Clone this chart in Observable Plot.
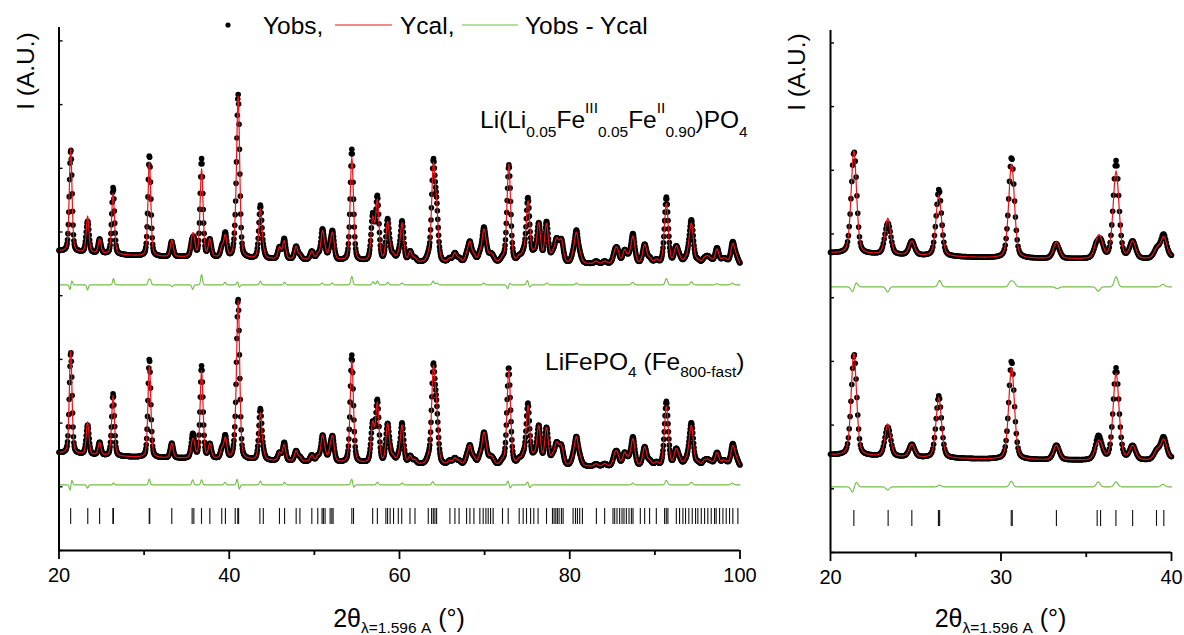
<!DOCTYPE html>
<html><head><meta charset="utf-8">
<script src="https://cdn.jsdelivr.net/npm/d3@7"></script>
<script src="https://cdn.jsdelivr.net/npm/@observablehq/plot@0.6"></script>
<style>
body{margin:0;background:#fff;}
#wrap{position:relative;width:1184px;height:635px;overflow:hidden;font-family:"Liberation Sans",Arial,sans-serif;background:#fff;}
#wrap > svg, #wrap > div{position:absolute;}
</style></head><body><div id="wrap"></div>
<script>
// ---------------- data ----------------
// reflection positions (2θ, degrees)
const peakPos = [21.37,23.36,24.77,26.35,30.62,33.25,35.64,35.84,36.75,37.72,39.15,39.55,40.72,41.05,43.65,44.0,45.9,46.45,47.85,48.3,49.7,50.4,50.95,51.25,51.85,52.15,54.4,56.85,57.4,58.6,58.95,59.3,59.85,60.3,61.25,61.8,63.4,63.97,64.36,65.9,66.5,67.0,67.9,68.27,68.75,69.45,69.9,70.2,70.7,71.0,72.1,72.84,74.06,74.55,75.1,75.8,76.36,77.27,78.0,78.44,78.75,79.05,80.4,80.78,81.2,83.1,84.1,85.3,85.6,86.45,86.95,87.43,88.8,89.4,90.17,91.35,92.5,92.9,93.6,94.0,94.3,95.05,95.8,96.2,96.6,97.3,98.0,98.4,99.15,99.6];
// peak heights above background, upper pattern Li(Li0.05FeIII0.05FeII0.90)PO4
const peakHeightTop = [1.63,0.57,0.22,0.96,1.49,0.26,0.22,0.22,1.38,0.27,0.15,0.33,0.2,2.5,0.76,0.08,0.18,0.28,0.2,0.06,0.13,0.08,0.42,0.1,0.15,0.38,1.62,0.65,0.93,0.6,0.08,0.08,0.08,0.6,0.16,0.06,0.08,1.42,0.7,0.06,0.14,0.06,0.1,0.3,0.1,0.12,0.45,0.15,0.1,0.06,0.06,1.55,0.08,0.12,0.95,0.12,0.6,0.6,0.12,0.3,0.12,0.3,0.1,0.45,0.1,0.04,0.04,0.15,0.18,0.2,0.08,0.42,0.3,0.08,0.06,0.95,0.25,0.08,0.06,0.1,0.6,0.06,0.08,0.1,0.06,0.24,0.08,0.06,0.32,0.1];
// peak heights above background, lower pattern LiFePO4 (Fe800-fast)
const peakHeightBottom = [1.62,0.51,0.2,0.95,1.46,0.23,0.18,0.18,1.37,0.22,0.14,0.31,0.2,2.45,0.73,0.08,0.12,0.25,0.16,0.06,0.1,0.08,0.38,0.1,0.15,0.36,1.6,0.6,0.92,0.6,0.08,0.08,0.08,0.6,0.12,0.06,0.08,1.4,0.72,0.06,0.1,0.06,0.1,0.28,0.1,0.12,0.44,0.15,0.1,0.06,0.06,1.5,0.08,0.12,0.92,0.12,0.6,0.58,0.12,0.28,0.12,0.25,0.1,0.42,0.1,0.04,0.04,0.15,0.16,0.2,0.08,0.42,0.3,0.08,0.06,0.95,0.25,0.08,0.06,0.1,0.6,0.06,0.08,0.08,0.06,0.22,0.08,0.06,0.32,0.1];
// background levels
const bgAngles = [20,25,30,40,50,60,70,80,90,100];
const bgTop = [4.70,4.66,4.62,4.59,4.56,4.52,4.51,4.50,4.49,4.47];
const bgBottom = [1.53,1.49,1.46,1.43,1.39,1.35,1.33,1.32,1.31,1.30];
// Yobs - Ycal: baseline offsets and visible misfit features [2θ, amplitude]
const diffTopOffset = 4.17;
const diffBottomOffset = 1.03;
const diffTopPos = [21.3,21.5,23.35,26.4,30.55,30.75,33.3,35.7,36.75,39.5,41.0,41.15,43.65,46.5,50.9,52.1,54.4,56.9,57.4,58.6,60.3,63.95,64.4,69.9,72.75,72.9,75.05,75.25,77.3,80.8,87.4,91.35,94.3,97.3,99.1];
const diffTopAmp = [-0.08,0.07,-0.08,0.1,0.08,0.07,-0.03,-0.07,0.16,0.04,0.06,-0.05,0.06,0.04,0.03,0.03,0.13,0.05,0.06,0.04,0.03,0.06,0.03,0.03,-0.08,0.05,0.08,-0.05,0.03,0.03,0.04,0.1,0.05,0.02,0.03];
const diffBottomPos = [21.3,21.5,23.35,26.4,30.6,35.7,36.75,39.5,40.95,41.15,43.65,46.5,54.4,54.6,57.4,60.3,63.9,72.8,72.95,75.1,75.25,87.4,91.35,94.3,99.1];
const diffBottomAmp = [-0.09,0.08,-0.05,0.03,0.09,0.08,0.08,0.04,0.1,-0.08,0.06,0.04,0.1,-0.05,0.04,0.03,0.05,0.09,-0.08,0.07,-0.07,0.03,0.07,0.04,0.03];
// Bragg reflection markers
const braggPos = [21.37,23.38,24.77,26.33,26.40,30.60,30.66,33.25,35.64,35.84,36.74,37.72,39.12,39.55,40.7,41.0,41.1,43.6,44.0,45.9,46.5,47.86,48.3,49.7,50.4,50.9,51.06,51.26,51.85,52.05,52.2,54.4,54.6,56.85,57.4,58.4,58.6,58.9,59.3,59.86,60.26,61.23,61.82,63.38,63.77,63.97,64.16,64.36,65.92,66.51,67.0,67.88,68.27,68.74,69.44,69.83,70.15,70.42,70.7,71.0,72.1,72.77,74.06,74.53,74.92,75.4,75.78,76.28,77.27,77.97,78.16,78.36,78.55,78.75,79.02,79.22,80.39,80.67,80.9,81.17,81.49,83.13,84.1,85.08,85.28,85.55,85.86,86.14,86.37,86.65,86.96,87.24,87.43,88.29,88.8,89.38,90.17,91.14,91.34,91.53,92.52,92.9,93.29,93.6,93.99,94.39,94.78,95.05,95.45,95.84,96.22,96.62,97.01,97.2,97.6,97.99,98.38,98.77,99.16,99.75];
// axis ticks
const xTicksLeft = [20,40,60,80,100];
const xMinorLeft = [30,50,70,90];
const xTicksRight = [20,30,40];
const xMinorRight = [25,35];
const yTicks = [0,1,2,3,4,5,6,7,8];

// ---------------- profile model from the peak list ----------------
const fwhmAt = t => 0.37 + 0.0025 * (t - 20);
function pv(x, c, h) {
  const d = (x - c) / fwhmAt(c);
  return h * (0.65 * Math.exp(-4 * Math.LN2 * d * d) + 0.35 / (1 + 4 * d * d));
}
function bump(x, c, a) {
  const d = (x - c) / (0.6 * fwhmAt(c));
  return a * Math.exp(-4 * Math.LN2 * d * d);
}
function bgAt(x, levels) {
  let i = 0;
  while (i < bgAngles.length - 2 && x > bgAngles[i + 1]) i++;
  const f = (x - bgAngles[i]) / (bgAngles[i + 1] - bgAngles[i]);
  return levels[i] + f * (levels[i + 1] - levels[i]);
}
const step = 0.05;
const grid = d3.range(0, Math.round(80 / step) + 1).map(i => +(20 + i * step).toFixed(3));
function pattern(heights, bg, dPos, dAmp, dOff) {
  return grid.map(t => {
    let c = bgAt(t, bg);
    for (let k = 0; k < peakPos.length; k++) if (Math.abs(t - peakPos[k]) < 4) c += pv(t, peakPos[k], heights[k]);
    let d = 0;
    for (let k = 0; k < dPos.length; k++) if (Math.abs(t - dPos[k]) < 2) d += bump(t, dPos[k], dAmp[k]);
    return {t, calc: c, obs: c + d, diff: dOff + d};
  });
}
const topRows = pattern(peakHeightTop, bgTop, diffTopPos, diffTopAmp, diffTopOffset);
const botRows = pattern(peakHeightBottom, bgBottom, diffBottomPos, diffBottomAmp, diffBottomOffset);

// ---------------- panels ----------------
const RED = "#e8141a", GREEN = "#6fbf47";
function panel({xMin, xMax, ticks, minor, width, marginLeft, marginRight, marginTop, height, marginBottom, yTop}) {
  const inside = r => r.t >= xMin - 1e-9 && r.t <= xMax + 1e-9;
  const tR = topRows.filter(inside), bR = botRows.filter(inside);
  const bragg = braggPos.filter(p => p >= xMin && p <= xMax);
  const innerW = width - marginLeft - marginRight;
  return Plot.plot({
    width, height, marginLeft, marginRight, marginTop, marginBottom,
    x: {domain: [xMin, xMax], label: null},
    y: {domain: [0, yTop], axis: null, label: null},
    style: {fontFamily: '"Liberation Sans", Arial, sans-serif', fontSize: "20px", color: "black", background: "transparent", overflow: "visible"},
    marks: [
      Plot.ruleX(bragg, {x: d => d, y1: 0.41, y2: 0.66, stroke: "#111", strokeWidth: 1.1}),
      Plot.line(tR, {x: "t", y: "diff", stroke: GREEN, strokeWidth: 1.1}),
      Plot.line(bR, {x: "t", y: "diff", stroke: GREEN, strokeWidth: 1.1}),
      Plot.dot(tR, {x: "t", y: "obs", r: 2.8, fill: "black", stroke: "none"}),
      Plot.dot(bR, {x: "t", y: "obs", r: 2.8, fill: "black", stroke: "none"}),
      Plot.line(tR, {x: "t", y: "calc", stroke: RED, strokeWidth: 1.2}),
      Plot.line(bR, {x: "t", y: "calc", stroke: RED, strokeWidth: 1.2}),
      Plot.tickY(yTicks, {y: d => d, stroke: "black", strokeWidth: 1.4, insetRight: innerW - 4}),
      Plot.ruleX([xMin], {stroke: "black", strokeWidth: 2}),
      Plot.ruleY([0], {stroke: "black", strokeWidth: 2}),
      Plot.axisX(ticks, {tickSize: 9, tickPadding: 8, strokeWidth: 1.8, fontSize: 20, label: null}),
      Plot.axisX(minor, {tickSize: 5, tickFormat: () => "", strokeWidth: 1.8, label: null})
    ]
  });
}

const wrap = document.getElementById("wrap");
const left = panel({xMin: 20, xMax: 100, ticks: xTicksLeft, minor: xMinorLeft, width: 760, marginLeft: 58.5, marginRight: 20.5, marginTop: 27, height: 590, marginBottom: 40, yTop: 523 / 63.7});
left.style.left = "0px"; left.style.top = "0px";
wrap.appendChild(left);
const right = panel({xMin: 20, xMax: 40, ticks: xTicksRight, minor: xMinorRight, width: 414, marginLeft: 60, marginRight: 13, marginTop: 28, height: 590, marginBottom: 40, yTop: 522 / 63.7});
right.style.left = "770px"; right.style.top = "2px";
wrap.appendChild(right);

// ---------------- text overlay: legend, labels, titles ----------------
const ov = d3.select(wrap).append("svg").attr("width", 1184).attr("height", 635)
  .style("left", "0px").style("top", "0px").style("pointer-events", "none")
  .attr("font-family", '"Liberation Sans", Arial, sans-serif').style("white-space", "pre");

function rich(x, y, parts, {anchor = "start", size = 24.5, small = 15.5, subShift = 8, supShift = -15, rotate = null} = {}) {
  const t = ov.append("text").attr("x", x).attr("y", y).attr("text-anchor", anchor).attr("font-size", size).attr("fill", "black");
  if (rotate !== null) t.attr("transform", `rotate(${rotate},${x},${y})`);
  let cur = 0;
  for (const [s, kind] of parts) {
    const target = kind === "sub" ? subShift : kind === "sup" ? supShift : 0;
    t.append("tspan").attr("dy", target - cur).attr("font-size", kind ? small : size).text(s);
    cur = target;
  }
  return t;
}

// legend
const legendItems = [
  {label: "Yobs,", kind: "dot", sx: 228, tx: 263},
  {label: "Ycal,", kind: "line", color: RED, sx: 335, ex: 392, tx: 400},
  {label: "Yobs - Ycal", kind: "line", color: GREEN, sx: 462, ex: 518, tx: 525}
];
for (const it of legendItems) {
  if (it.kind === "dot") ov.append("circle").attr("cx", it.sx).attr("cy", 25).attr("r", 2.6).attr("fill", "black");
  else ov.append("line").attr("x1", it.sx).attr("x2", it.ex).attr("y1", 25).attr("y2", 25).attr("stroke", it.color).attr("stroke-width", 1.2);
  rich(it.tx, 34, [[it.label]], {size: 24.5});
}

// compound labels
rich(480, 128, [["Li(Li"], ["0.05", "sub"], ["Fe"], ["III", "sup"], ["0.05", "sub"], ["Fe"], ["II", "sup"], ["0.90", "sub"], [")PO"], ["4", "sub"]], {subShift: 9});
rich(545, 370, [["LiFePO"], ["4", "sub"], [" (Fe"], ["800-fast", "sub"], [")"]], {subShift: 7});

// y titles
rich(34, 71, [["I (A.U.)"]], {anchor: "middle", size: 24.5, rotate: -90});
rich(805, 72, [["I (A.U.)"]], {anchor: "middle", size: 24.5, rotate: -90});

// x titles
rich(399, 627, [["2θ"], ["λ=1.596 A", "sub"], [" (°)"]], {anchor: "middle", size: 25, subShift: 6});
rich(1000.5, 627, [["2θ"], ["λ=1.596 A", "sub"], [" (°)"]], {anchor: "middle", size: 25, subShift: 6});
</script></body></html>
